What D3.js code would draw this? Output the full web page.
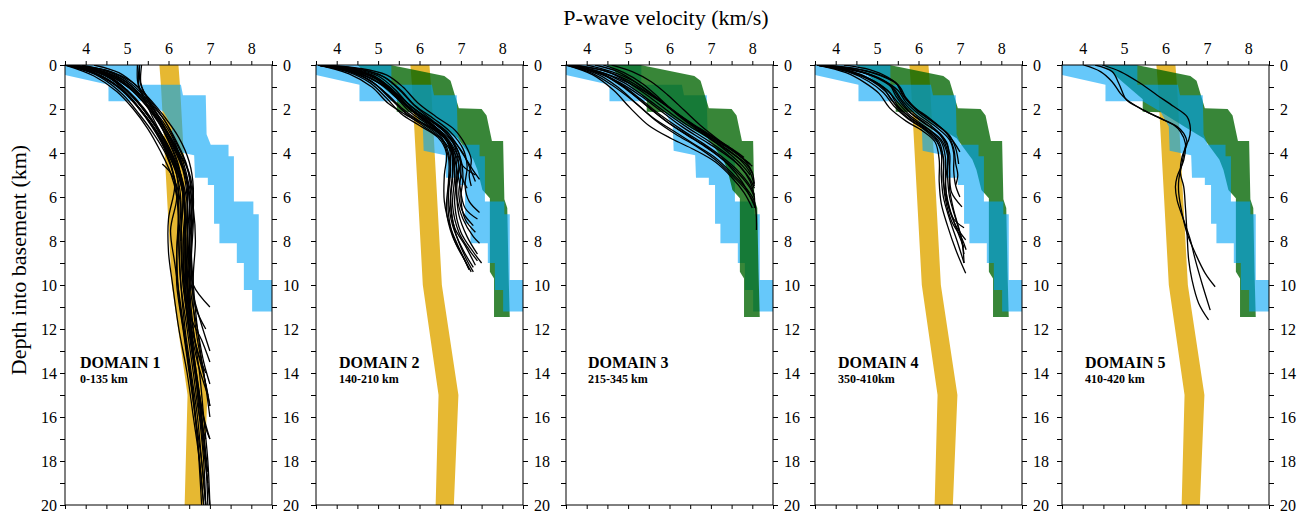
<!DOCTYPE html>
<html>
<head>
<meta charset="utf-8">
<script src="https://cdn.jsdelivr.net/npm/d3@7"></script>
<style>
body { margin: 0; background: #fff; }
svg { display: block; }
</style>
</head>
<body>
<div id="chart"></div>
<script>
// data
let domainNames = ['DOMAIN 1', 'DOMAIN 2', 'DOMAIN 3', 'DOMAIN 4', 'DOMAIN 5'];
let domainRanges = ['0-135 km', '140-210 km', '215-345 km', '350-410km', '410-420 km'];
let hasGold = [true, true, false, true, true];
let hasGreen = [false, true, true, true, true];

let velTicks = [3.5, 4, 4.5, 5, 5.5, 6, 6.5, 7, 7.5, 8, 8.5];
let velLabels = [4, 5, 6, 7, 8];
let depthTicks = [0, 1, 2, 3, 4, 5, 6, 7, 8, 9, 10, 11, 12, 13, 14, 15, 16, 17, 18, 19, 20];
let depthLabels = [0, 2, 4, 6, 8, 10, 12, 14, 16, 18, 20];

// gold band: edges at given depths
let goldDepth = [0, 1, 10, 15, 20];
let goldLeft = [5.78, 5.82, 6.08, 6.46, 6.39];
let goldRight = [6.24, 6.28, 6.54, 6.94, 6.83];

// blue envelope [velocity, depth]
let bluePoly = [
    [3.5, 0], [5.32, 0], [5.32, 0.9], [6.3, 0.9], [6.35, 1.38], [6.9, 1.38], [6.92, 3.15], [7.02, 3.62],
    [7.45, 3.62], [7.45, 4.15], [7.58, 4.15], [7.58, 6.2], [8.05, 6.2], [8.05, 6.78], [8.18, 6.78],
    [8.18, 9.77], [8.5, 9.77], [8.5, 11.2], [8.02, 11.2], [8.02, 10.23], [7.82, 10.23], [7.82, 9.0],
    [7.65, 9.0], [7.65, 8.1], [7.23, 8.1], [7.23, 7.22], [7.1, 7.22], [7.1, 5.45], [6.95, 5.45],
    [6.95, 5.12], [6.64, 5.12], [6.62, 4.1], [6.1, 3.9], [6.08, 2.8], [5.88, 2.12], [5.45, 1.65],
    [4.55, 1.65], [4.55, 0.9], [3.5, 0.45]
];

// green envelope [velocity, depth]
let greenPoly = [
    [4.5, 0], [5.3, 0], [6.6, 0.5], [6.75, 0.72], [6.95, 1.97], [7.5, 2.0], [7.62, 2.3], [7.75, 3.45],
    [8.02, 3.45], [8.05, 6.1], [8.12, 6.5], [8.15, 9.4], [8.18, 11.45], [7.8, 11.45], [7.8, 9.7],
    [7.7, 9.4], [7.7, 6.06], [7.52, 5.68], [7.4, 4.77], [7.3, 4.3], [6.92, 3.33], [6.5, 2.85],
    [5.9, 2.15], [5.45, 2.12], [5.45, 1.56], [4.95, 0.75]
];

// velocity profiles per domain [velocity, depth]
let profilesD1 = [
    [[3.55,0],[4.4,0.35],[4.95,0.9],[5.35,1.6],[5.75,2.6],[6.05,3.6],[6.25,4.6],[6.35,6],[6.3,8],[6.35,10],[6.5,12],[6.65,14],[6.75,16],[6.85,18],[6.9,20]],
    [[3.6,0],[4.5,0.4],[5.05,1.05],[5.45,1.8],[5.8,2.7],[6.1,3.7],[6.35,4.8],[6.45,6],[6.45,8],[6.5,10],[6.6,12],[6.75,14],[6.85,16],[6.95,18],[7.0,20]],
    [[3.5,0],[4.3,0.45],[4.85,1.1],[5.25,1.9],[5.6,2.8],[5.9,3.8],[6.1,4.8],[6.2,6],[6.05,7.5],[6.15,9],[6.3,11],[6.45,13],[6.6,15],[6.7,17],[6.8,20]],
    [[3.65,0],[4.6,0.3],[5.1,0.85],[5.5,1.6],[5.9,2.5],[6.2,3.5],[6.45,4.6],[6.55,6],[6.5,8],[6.55,10],[6.75,11.5],[7.0,13]],
    [[3.55,0],[4.35,0.5],[4.9,1.2],[5.3,2.0],[5.65,2.9],[5.95,3.9],[6.2,5.0],[6.3,6.2],[6.25,8],[6.3,10],[6.45,12],[6.6,14],[6.75,16],[6.9,17]],
    [[3.6,0],[4.5,0.5],[5.0,1.3],[5.4,2.2],[5.75,3.1],[6.0,4.0],[6.2,5.0],[6.25,6.5],[6.2,8.5],[6.25,10.5],[6.4,12.5],[6.55,14.5],[6.7,17],[6.8,19],[6.85,20]],
    [[3.9,0],[4.6,0.35],[5.1,0.95],[5.45,1.7],[5.8,2.6],[6.1,3.5],[6.35,4.6],[6.5,5.8],[6.5,7.5],[6.55,9.5],[6.65,11],[6.9,12]],
    [[3.55,0],[4.25,0.4],[4.8,1.0],[5.2,1.75],[5.55,2.6],[5.85,3.5],[6.05,4.5],[6.15,5.5],[6.0,7],[6.0,8.5],[6.1,10],[6.25,12],[6.45,14],[6.6,16],[6.75,18],[6.85,20]],
    [[5.3,0],[5.3,0.6],[5.35,1.0],[5.5,1.5],[5.75,2.3],[6.0,3.2],[6.25,4.2],[6.45,5.3],[6.55,6.5],[6.55,8.5],[6.6,10],[6.7,12],[6.85,14],[7.0,15.5]],
    [[5.25,0],[5.25,0.7],[5.3,1.1],[5.45,1.7],[5.65,2.5],[5.9,3.4],[6.15,4.4],[6.35,5.5],[6.4,7],[6.4,9],[6.5,11],[6.6,13],[6.75,15],[6.85,17],[6.95,19],[7.0,20]],
    [[5.35,0],[5.33,0.8],[5.42,1.3],[5.6,1.9],[5.9,2.8],[6.2,3.8],[6.5,4.9],[6.6,6],[6.55,8],[6.5,10],[6.55,11.5],[6.8,12.5],[7.0,13.5]],
    [[3.7,0],[4.5,0.45],[5.0,1.15],[5.4,1.95],[5.7,2.8],[5.95,3.7],[6.2,4.7],[6.35,5.8],[6.4,7.5],[6.45,9.5],[6.55,11.5],[6.7,13],[6.9,14]],
    [[3.6,0],[4.4,0.5],[4.95,1.25],[5.35,2.1],[5.7,3.0],[6.0,4.0],[6.25,5.1],[6.4,6.5],[6.35,8.5],[6.4,10.5],[6.55,12.5],[6.7,14.5],[6.85,16],[7.0,17]],
    [[4.2,0],[4.8,0.35],[5.2,0.9],[5.55,1.6],[5.9,2.5],[6.15,3.4],[6.4,4.4],[6.55,5.5],[6.6,7],[6.55,9],[6.6,10],[7.0,11]],
    [[3.55,0],[4.3,0.35],[4.85,0.95],[5.25,1.7],[5.6,2.55],[5.95,3.5],[6.2,4.6],[6.35,5.7],[6.3,7.5],[6.35,9.5],[6.45,11.5],[6.6,13.5],[6.75,15.5],[6.85,17.5],[6.95,19]],
    [[3.5,0],[4.2,0.5],[4.75,1.2],[5.15,2.0],[5.5,2.9],[5.8,3.9],[6.05,4.9],[6.2,6],[6.25,8],[6.3,10],[6.4,12],[6.55,14],[6.7,16],[6.8,18],[6.9,20]],
    [[3.65,0],[4.55,0.4],[5.05,1.0],[5.45,1.8],[5.85,2.75],[6.15,3.8],[6.4,4.9],[6.5,6.2],[6.45,8],[6.45,10],[6.55,12],[6.7,13.5],[6.95,15]],
    [[5.85,4.5],[6.05,4.9],[6.2,5.5],[6.3,6.5],[6.3,8]],
    [[3.75,0],[4.6,0.55],[5.1,1.35],[5.5,2.3],[5.85,3.3],[6.1,4.3],[6.3,5.4],[6.4,7],[6.4,9],[6.45,11],[6.6,13],[6.75,15],[6.9,16.5],[7.0,17]],
    [[3.6,0],[4.45,0.45],[5.0,1.15],[5.4,2.0],[5.75,2.9],[6.05,3.9],[6.3,5],[6.4,6.3],[6.35,8],[6.4,10],[6.5,12],[6.65,14],[6.8,16],[6.9,18],[6.95,20]],
    [[3.55,0],[4.45,0.3],[5.0,0.8],[5.4,1.5],[5.8,2.4],[6.1,3.3],[6.3,4.3],[6.45,5.5],[6.45,7],[6.5,9],[6.55,10.5],[6.7,12],[6.85,13.5],[7.0,14.5]],
    [[3.6,0],[4.35,0.55],[4.9,1.35],[5.3,2.25],[5.65,3.15],[5.95,4.1],[6.15,5.2],[6.25,6.8],[6.2,8.5],[6.2,10],[6.35,12],[6.5,14],[6.65,16],[6.8,18],[6.9,20]],
    [[3.55,0],[4.5,0.25],[5.1,0.75],[5.5,1.45],[5.9,2.35],[6.25,3.3],[6.5,4.4],[6.6,5.6],[6.55,7],[6.5,8.5],[6.45,10],[6.5,11.5],[6.7,13],[6.9,14.5],[7.0,15.5]],
    [[5.3,0],[5.28,0.9],[5.4,1.4],[5.6,2.0],[5.85,2.9],[6.1,3.9],[6.3,5.0],[6.45,6.3],[6.4,8],[6.45,10],[6.55,12],[6.65,14],[6.8,16],[6.95,18.5]],
    [[3.65,0],[4.5,0.35],[5.05,0.95],[5.45,1.7],[5.8,2.55],[6.1,3.45],[6.35,4.4],[6.5,5.5],[6.6,6.5],[6.65,8],[6.6,9.5],[6.6,11],[6.7,12.5],[6.85,14],[7.0,16]]
];

let profilesD2 = [
    [[3.55,0],[4.3,0.2],[4.9,0.55],[5.35,1.2],[5.7,1.9],[6.1,2.5],[6.5,3.1],[6.75,3.8],[6.8,4.8],[6.75,6],[6.85,7.5],[7.1,8.7],[7.3,9.4]],
    [[3.6,0],[4.5,0.25],[5.0,0.6],[5.4,1.3],[5.8,2.0],[6.25,2.6],[6.6,3.2],[6.85,4.0],[6.9,5.0],[6.85,6.3],[7.0,7.6],[7.3,8.5],[7.5,9.0]],
    [[3.55,0],[4.2,0.25],[4.75,0.65],[5.2,1.3],[5.6,2.0],[6.0,2.55],[6.4,3.0],[6.65,3.7],[6.75,4.7],[6.7,6.0],[6.8,7.3],[7.05,8.4],[7.3,9.2]],
    [[3.65,0],[4.6,0.2],[5.1,0.5],[5.5,1.1],[5.85,1.8],[6.3,2.5],[6.7,3.1],[7.0,3.9],[7.3,4.8],[7.45,5.2]],
    [[3.55,0],[4.35,0.3],[4.85,0.75],[5.25,1.45],[5.65,2.15],[6.1,2.7],[6.5,3.3],[6.7,4.2],[6.7,5.3],[6.65,6.6],[6.8,7.8],[7.05,8.7],[7.2,9.3]],
    [[3.6,0],[4.5,0.3],[5.0,0.7],[5.4,1.4],[5.75,2.1],[6.2,2.7],[6.6,3.3],[6.9,4.2],[7.0,5.0],[7.15,5.6]],
    [[3.7,0],[4.55,0.2],[5.15,0.55],[5.55,1.15],[5.9,1.85],[6.35,2.45],[6.75,3.05],[7.05,3.8],[7.15,4.6],[7.1,5.5],[7.2,6.2],[7.45,6.7]],
    [[3.55,0],[4.25,0.3],[4.8,0.8],[5.2,1.5],[5.55,2.2],[6.0,2.75],[6.45,3.3],[6.65,4.0],[6.6,5.0],[6.6,6.2],[6.75,7.4],[7.0,8.5],[7.2,9.3]],
    [[3.55,0],[4.3,0.4],[4.85,1.0],[5.25,1.75],[5.75,2.35],[6.3,2.9],[6.7,3.5],[6.85,4.3],[6.95,5.2],[7.1,6.5],[7.4,7.0]],
    [[3.6,0],[4.4,0.25],[4.95,0.6],[5.35,1.2],[5.75,1.95],[6.15,2.55],[6.55,3.15],[6.8,3.9],[6.85,4.9],[6.9,6.0],[7.05,7.0],[7.3,7.8],[7.45,8.1]],
    [[3.6,0],[4.5,0.35],[5.05,0.85],[5.45,1.5],[5.85,2.15],[6.3,2.75],[6.7,3.4],[6.95,4.2],[7.05,4.6],[7.35,5.0]],
    [[3.65,0],[4.6,0.3],[5.1,0.75],[5.5,1.4],[5.9,2.05],[6.35,2.65],[6.75,3.3],[7.05,4.0],[7.2,4.6],[7.35,5.3]],
    [[3.55,0],[4.35,0.2],[4.9,0.5],[5.3,1.05],[5.65,1.75],[6.05,2.4],[6.45,2.95],[6.7,3.6],[6.75,4.5],[6.7,5.5],[6.7,6.8],[6.85,8.0],[7.1,8.9],[7.25,9.4]],
    [[3.7,0],[4.6,0.4],[5.15,0.95],[5.55,1.6],[5.95,2.25],[6.4,2.85],[6.8,3.5],[7.0,4.3],[7.05,5.2],[7.0,6.0],[7.1,7.0],[7.35,7.6]],
    [[3.55,0],[4.4,0.35],[4.95,0.9],[5.35,1.6],[5.7,2.25],[6.15,2.85],[6.55,3.4],[6.8,4.1],[6.85,5.0],[6.8,6.4],[6.95,7.6],[7.2,8.4],[7.4,8.9]],
    [[3.6,0],[4.55,0.15],[5.2,0.45],[5.6,1.0],[5.95,1.7],[6.4,2.35],[6.85,2.95],[7.1,3.6],[7.25,4.3],[7.2,5.0],[7.25,5.5]],
    [[3.55,0],[4.45,0.2],[5.0,0.5],[5.4,1.1],[5.75,1.8],[6.2,2.45],[6.6,3.0],[6.85,3.7],[6.95,4.6],[6.9,5.6],[6.95,6.8],[7.15,7.8],[7.4,8.6]],
    [[3.6,0],[4.4,0.3],[4.95,0.75],[5.4,1.35],[5.8,2.0],[6.25,2.6],[6.6,3.25],[6.8,4.1],[6.8,5.1],[6.75,6.3],[6.85,7.4],[7.1,8.2],[7.35,9.1]],
    [[3.65,0],[4.55,0.3],[5.05,0.7],[5.45,1.3],[5.85,1.95],[6.3,2.55],[6.7,3.2],[6.95,4.0],[7.0,4.9],[6.95,5.9],[7.05,6.7],[7.3,7.3]]
];

let profilesD3 = [
    [[3.55,0],[4.2,0.3],[4.8,0.8],[5.3,1.4],[5.8,2.1],[6.3,2.8],[6.8,3.4],[7.3,4.0],[7.7,4.6],[7.95,5.3],[8.05,6.0],[8.05,6.5]],
    [[3.5,0],[4.1,0.35],[4.6,0.9],[5.1,1.6],[5.6,2.4],[6.1,3.0],[6.6,3.6],[7.1,4.2],[7.5,4.9],[7.85,5.6],[8.05,6.2],[8.1,7.5]],
    [[3.6,0],[4.4,0.25],[5.0,0.7],[5.5,1.3],[6.0,1.95],[6.5,2.6],[7.0,3.2],[7.45,3.8],[7.8,4.3],[8.0,4.6]],
    [[3.55,0],[4.3,0.3],[4.9,0.8],[5.4,1.45],[5.9,2.15],[6.4,2.8],[6.9,3.4],[7.35,4.0],[7.7,4.6],[7.95,5.2],[8.05,5.6]],
    [[4.4,0],[4.9,0.35],[5.35,0.85],[5.75,1.5],[6.15,2.2],[6.6,2.85],[7.05,3.45],[7.5,4.0],[7.85,4.5],[8.0,4.9]],
    [[3.55,0],[4.25,0.4],[4.75,1.0],[5.2,1.75],[5.65,2.5],[6.15,3.15],[6.65,3.7],[7.1,4.3],[7.5,5.0],[7.85,5.7],[8.05,6.3]],
    [[4.0,0],[4.6,0.3],[5.15,0.75],[5.6,1.35],[6.05,2.0],[6.5,2.65],[6.95,3.25],[7.4,3.75],[7.75,4.2],[7.95,4.5]],
    [[3.6,0],[4.35,0.4],[4.9,1.0],[5.35,1.7],[5.85,2.45],[6.35,3.1],[6.85,3.7],[7.3,4.3],[7.7,5.0],[7.95,5.6],[8.05,6.0]],
    [[4.6,0],[5.1,0.3],[5.55,0.75],[5.95,1.35],[6.35,2.05],[6.75,2.75],[7.15,3.35],[7.55,3.9],[7.85,4.4],[8.0,4.9],[8.05,5.4]],
    [[3.5,0],[4.15,0.45],[4.65,1.15],[5.05,1.95],[5.5,2.75],[6.05,3.35],[6.6,3.85],[7.1,4.4],[7.5,5.1],[7.8,5.8],[8.0,6.5]],
    [[3.7,0],[4.5,0.3],[5.05,0.85],[5.55,1.5],[6.0,2.15],[6.45,2.75],[6.95,3.3],[7.4,3.95],[7.75,4.55],[7.95,5.0]],
    [[4.2,0],[4.75,0.3],[5.2,0.8],[5.65,1.45],[6.1,2.1],[6.55,2.7],[7.05,3.3],[7.5,3.8],[7.8,4.2]],
    [[3.55,0],[4.2,0.25],[4.75,0.6],[5.3,1.1],[5.85,1.75],[6.35,2.45],[6.85,3.1],[7.3,3.7],[7.7,4.3],[7.95,4.9],[8.05,5.5]],
    [[3.6,0],[4.4,0.45],[4.95,1.1],[5.45,1.85],[5.95,2.6],[6.45,3.2],[6.95,3.8],[7.4,4.5],[7.75,5.3],[7.95,6.0],[8.05,6.4]],
    [[3.55,0],[4.3,0.35],[4.85,0.9],[5.3,1.55],[5.8,2.3],[6.3,2.95],[6.8,3.55],[7.25,4.15],[7.65,4.8],[7.95,5.5],[8.05,5.9]]
];

let profilesD4 = [
    [[3.55,0],[4.3,0.2],[4.9,0.5],[5.3,0.9],[5.45,1.4],[5.7,2.0],[6.1,2.6],[6.5,3.1],[6.7,3.6],[6.7,4.5],[6.65,5.5],[6.75,6.5],[6.95,7.6],[7.1,8.3]],
    [[3.6,0],[4.45,0.15],[5.0,0.4],[5.45,0.8],[5.6,1.3],[5.85,1.85],[6.25,2.4],[6.6,2.95],[6.85,3.5],[7.0,3.95]],
    [[3.55,0],[4.2,0.25],[4.75,0.6],[5.15,1.05],[5.35,1.6],[5.65,2.25],[6.05,2.8],[6.4,3.3],[6.55,4.0],[6.55,5.0],[6.6,6.0],[6.75,7.0],[6.95,8.1],[7.1,9.0]],
    [[3.7,0],[4.55,0.2],[5.1,0.5],[5.5,0.9],[5.65,1.45],[5.95,2.05],[6.35,2.6],[6.7,3.15],[6.85,3.8],[6.9,4.5],[6.95,5.0],[6.9,5.45]],
    [[3.55,0],[4.35,0.3],[4.85,0.7],[5.2,1.2],[5.45,1.8],[5.8,2.4],[6.2,2.95],[6.5,3.5],[6.6,4.3],[6.6,5.3],[6.7,6.3],[6.9,7.3],[7.14,7.95]],
    [[3.65,0],[4.5,0.25],[5.05,0.6],[5.4,1.05],[5.6,1.6],[5.9,2.2],[6.3,2.75],[6.6,3.3],[6.75,4.0],[6.75,4.9],[6.8,5.8],[7.05,6.45]],
    [[3.55,0],[4.25,0.35],[4.7,0.8],[5.05,1.3],[5.3,1.95],[5.7,2.55],[6.1,3.0],[6.4,3.5],[6.5,4.3],[6.5,5.3],[6.55,6.3],[6.7,7.3],[6.9,8.4],[7.14,9.47]],
    [[4.2,0],[4.8,0.2],[5.25,0.55],[5.55,1.0],[5.7,1.5],[6.0,2.1],[6.4,2.65],[6.75,3.2],[6.9,3.8],[6.97,4.5]],
    [[3.6,0],[4.4,0.3],[4.95,0.75],[5.3,1.25],[5.5,1.85],[5.85,2.45],[6.25,2.95],[6.55,3.5],[6.65,4.2],[6.65,5.2],[6.7,6.2],[6.85,7.0],[7.1,7.4]],
    [[3.55,0],[4.3,0.25],[4.85,0.65],[5.25,1.15],[5.5,1.7],[5.8,2.3],[6.2,2.85],[6.55,3.4],[6.7,4.1],[6.7,5.0],[6.75,6.0],[6.9,7.0],[7.05,8.0],[7.1,9.0]],
    [[3.8,0],[4.6,0.3],[5.15,0.7],[5.5,1.15],[5.7,1.7],[6.05,2.3],[6.45,2.85],[6.75,3.4],[6.85,4.0],[6.85,4.8],[6.9,5.5],[7.0,6.0]],
    [[3.55,0],[4.4,0.2],[4.95,0.55],[5.35,1.0],[5.55,1.55],[5.8,2.15],[6.2,2.7],[6.55,3.25],[6.7,3.9],[6.75,4.7],[6.75,5.6],[6.85,6.6],[7.0,7.6],[7.1,8.6]],
    [[3.6,0],[4.3,0.3],[4.8,0.75],[5.15,1.25],[5.4,1.85],[5.75,2.45],[6.15,2.95],[6.45,3.5],[6.6,4.2],[6.6,5.1],[6.65,6.1],[6.8,7.1],[7.05,7.9],[7.15,8.4]]
];

let profilesD5 = [
    [[4.47,0],[4.91,0.30],[5.39,0.83],[5.79,1.36],[6.20,1.89],[6.52,2.35],[6.60,2.88],[6.56,3.41],[6.48,3.71],[6.40,4.47],[6.32,5.23],[6.32,5.83],[6.40,6.74],[6.52,7.65],[6.72,8.56],[6.96,9.47],[7.20,10.08]],
    [[4.30,0],[4.71,0.30],[4.87,0.83],[5.03,1.52],[5.11,1.67],[5.47,2.05],[5.79,2.35],[6.20,2.73],[6.36,3.03],[6.48,3.56],[6.44,4.32],[6.28,5.08],[6.24,5.53],[6.28,6.14],[6.44,7.05],[6.60,7.95],[6.72,8.86],[6.88,9.92],[7.08,11.14]],
    [[4.02,0],[4.43,0.30],[4.71,0.76],[4.91,1.29],[5.07,1.59],[5.39,1.97],[5.79,2.35],[6.28,2.80],[6.44,3.11],[6.52,3.56],[6.40,4.17],[6.36,4.92],[6.44,5.53],[6.48,6.44],[6.52,7.65],[6.56,8.86],[6.64,9.77],[6.80,10.83],[7.04,11.59]]
];

let profiles = [profilesD1, profilesD2, profilesD3, profilesD4, profilesD5];

// layout
const width = 1308, height = 513;
const panelLeft = [65, 316, 566, 815, 1062];
const panelTop = 65, panelW = 207, panelH = 440;
const labelDx = [15, 23, 22, 23, 23];
const serif = '"Liberation Serif", "Times New Roman", serif';

let svg = d3.select('#chart').append('svg')
    .attr('width', width)
    .attr('height', height);

let x = d3.scaleLinear().domain([3.5, 8.5]).range([0, panelW]);
let y = d3.scaleLinear().domain([0, 20]).range([0, panelH]);

let polyGen = d3.line().x(d => x(d[0])).y(d => y(d[1])).curve(d3.curveLinearClosed);
let profileGen = d3.line().x(d => x(d[0])).y(d => y(d[1])).curve(d3.curveCatmullRom.alpha(0.5));

let goldPoly = goldDepth.map((d, k) => [goldLeft[k], d])
    .concat(goldDepth.map((d, k) => [goldRight[k], d]).reverse());

svg.append('defs').append('clipPath').attr('id', 'panelClip')
    .append('rect').attr('width', panelW).attr('height', panelH);

function drawBlue(g) {
    g.append('path').attr('d', polyGen(bluePoly))
        .attr('fill', '#00a3f7').attr('fill-opacity', 0.6);
}
function drawGreen(g) {
    g.append('path').attr('d', polyGen(greenPoly))
        .attr('fill', '#006400').attr('fill-opacity', 0.78);
}

profiles.forEach(function(lines, i) {
    let g = svg.append('g').attr('transform', 'translate(' + panelLeft[i] + ',' + panelTop + ')');
    let plot = g.append('g').attr('clip-path', 'url(#panelClip)');

    if (hasGold[i]) {
        plot.append('path').attr('d', polyGen(goldPoly)).attr('fill', '#e6b832');
    }
    //panel 3: green sits over the blue, the others blue over green
    if (i === 2) {
        drawBlue(plot);
        drawGreen(plot);
    } else {
        if (hasGreen[i]) drawGreen(plot);
        drawBlue(plot);
    }

    plot.selectAll('path.profile')
        .data(lines)
        .enter()
        .append('path')
        .attr('class', 'profile')
        .attr('d', profileGen)
        .attr('fill', 'none')
        .attr('stroke', '#000')
        .attr('stroke-width', 1.3);

    g.append('rect').attr('width', panelW).attr('height', panelH)
        .attr('fill', 'none').attr('stroke', '#000').attr('stroke-width', 1);

    let top = g.append('g').call(d3.axisTop(x).tickValues(velTicks).tickSize(4).tickPadding(7)
        .tickFormat(v => velLabels.includes(v) ? v : ''));
    let bottom = g.append('g').attr('transform', 'translate(0,' + panelH + ')')
        .call(d3.axisBottom(x).tickValues(velTicks).tickSize(4).tickFormat(''));
    let left = g.append('g').call(d3.axisLeft(y).tickValues(depthTicks).tickSize(5).tickPadding(3)
        .tickFormat(d => (i === 0 && depthLabels.includes(d)) ? d : ''));
    let right = g.append('g').attr('transform', 'translate(' + panelW + ',0)')
        .call(d3.axisRight(y).tickValues(depthTicks).tickSize(5).tickPadding(6)
        .tickFormat(d => depthLabels.includes(d) ? d : ''));

    [top, bottom, left, right].forEach(function(a) {
        a.select('.domain').remove();
        a.attr('font-family', serif).attr('font-size', 16);
        a.selectAll('line').attr('stroke', '#000');
        a.selectAll('text').attr('fill', '#000');
    });

    g.append('text')
        .attr('x', labelDx[i]).attr('y', 303)
        .attr('font-family', serif).attr('font-size', 16).attr('font-weight', 'bold')
        .text(domainNames[i]);
    g.append('text')
        .attr('x', labelDx[i]).attr('y', 318)
        .attr('font-family', serif).attr('font-size', 12).attr('font-weight', 'bold')
        .text(domainRanges[i]);
});

svg.append('text')
    .attr('x', 666).attr('y', 25)
    .attr('text-anchor', 'middle')
    .attr('font-family', serif).attr('font-size', 22)
    .text('P-wave velocity (km/s)');

svg.append('text')
    .attr('transform', 'translate(26,260) rotate(-90)')
    .attr('text-anchor', 'middle')
    .attr('font-family', serif).attr('font-size', 22)
    .text('Depth into basement (km)');
</script>
</body>
</html>
